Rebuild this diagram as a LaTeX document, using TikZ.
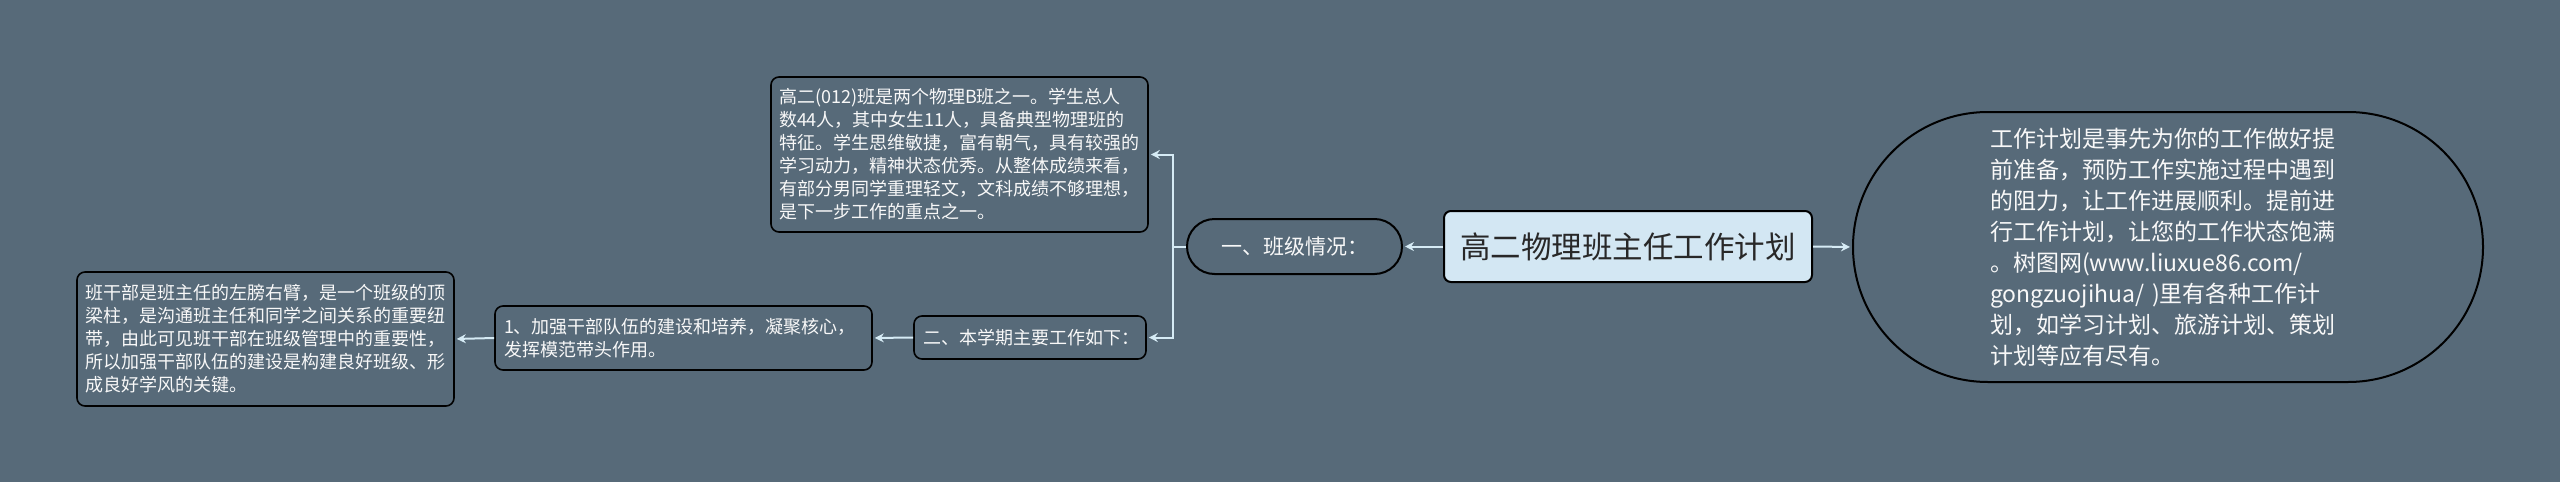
\documentclass[tikz,border=0pt]{standalone}
\usepackage{fontspec}
\setmainfont{Noto Sans CJK SC}
\usetikzlibrary{arrows.meta}
\definecolor{bg}{RGB}{87,106,121}
\definecolor{conn}{RGB}{214,235,245}
\definecolor{rootfill}{RGB}{211,231,243}
\definecolor{txt}{RGB}{248,248,248}
\definecolor{roottxt}{RGB}{40,40,40}
\begin{document}
\begin{tikzpicture}[x=1pt,y=-1pt,
  box/.style={draw=black, line width=1.6pt, fill=bg, rounded corners=8pt, text=txt,
    align=left, inner sep=0pt, font=\fontsize{18}{23}\selectfont},
  pill/.style={draw=black, line width=2pt, fill=bg, text=txt, inner sep=0pt, align=left},
  rootbox/.style={draw=black, line width=2pt, fill=rootfill, rounded corners=7pt, text=roottxt,
    inner sep=0pt, font=\fontsize{30.5}{36}\selectfont},
  conn/.style={draw=conn, line width=2pt, -{Stealth[length=9pt,width=9pt]}, shorten >=2pt},
  connplain/.style={draw=conn, line width=2pt}
]
\fill[bg] (0,0) rectangle (2560,482);
\useasboundingbox (0,0) rectangle (2560,482);

\node[rootbox, minimum width=368pt, minimum height=71pt] (root) at (1628,246.5) {高二物理班主任工作计划};

\node[pill, rounded corners=27.5pt, minimum width=215pt, minimum height=55pt,
  font=\fontsize{21}{26}\selectfont] (p1) at (1294.5,246.5) {一、班级情况：};

\node[pill, rounded corners=135pt, minimum width=630pt, minimum height=270pt, text width=356pt,
  font=\fontsize{23}{31}\selectfont] (note) at (2168,247) {工作计划是事先为你的工作做好提\\前准备，预防工作实施过程中遇到\\的阻力，让工作进展顺利。提前进\\行工作计划，让您的工作状态饱满\\。树图网(www.liuxue86.com/\\gongzuojihua/ )里有各种工作计\\划，如学习计划、旅游计划、策划\\计划等应有尽有。};

\node[box, minimum width=377pt, minimum height=155pt, text width=361pt] (top) at (959.5,154.5) {高二(012)班是两个物理B班之一。学生总人\\数44人，其中女生11人，具备典型物理班的\\特征。学生思维敏捷，富有朝气，具有较强的\\学习动力，精神状态优秀。从整体成绩来看，\\有部分男同学重理轻文，文科成绩不够理想，\\是下一步工作的重点之一。};

\node[box, minimum width=232pt, minimum height=43pt, text width=214pt] (p2) at (1030,337.5) {二、本学期主要工作如下：};

\node[box, minimum width=377pt, minimum height=64pt, text width=359pt] (s1) at (683.5,338) {1、加强干部队伍的建设和培养，凝聚核心，\\发挥模范带头作用。};

\node[box, minimum width=377pt, minimum height=134pt, text width=361pt] (s1d) at (265.5,339) {班干部是班主任的左膀右臂，是一个班级的顶\\梁柱，是沟通班主任和同学之间关系的重要纽\\带，由此可见班干部在班级管理中的重要性，\\所以加强干部队伍的建设是构建良好班级、形\\成良好学风的关键。};

\coordinate (j) at (1173,246.5);

\draw[conn] (root.west) -- (p1.east);
\draw[conn] (root.east) -- (note.west);
\draw[connplain] (p1.west) -- (j);
\draw[conn] (j) |- (top.east);
\draw[conn] (j) |- (p2.east);
\draw[conn] (p2.west) -- (s1.east);
\draw[conn] (s1.west) -- (s1d.east);
\end{tikzpicture}
\end{document}
